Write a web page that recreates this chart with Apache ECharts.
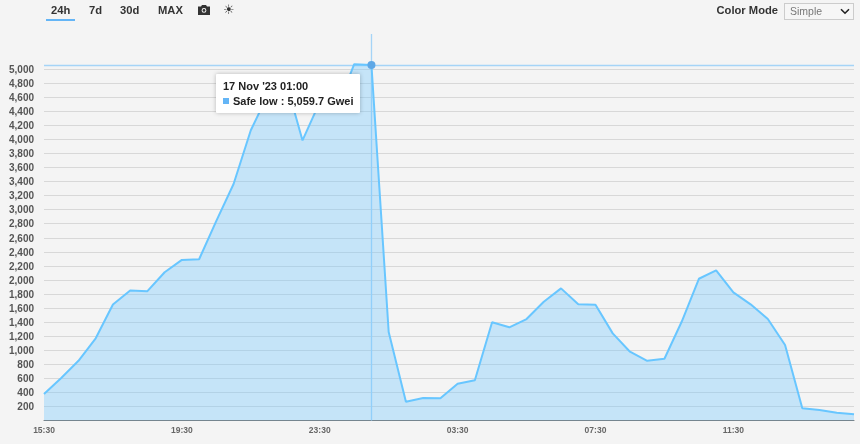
<!DOCTYPE html>
<html><head><meta charset="utf-8">
<script src="https://cdn.jsdelivr.net/npm/echarts@6/dist/echarts.min.js"></script>
<style>
html,body{margin:0;padding:0;background:#f4f4f4;font-family:"Liberation Sans",Arial,sans-serif;overflow:hidden}
#chart{position:absolute;left:0;top:0;width:860px;height:444px}
.t{position:absolute;top:3px;font-weight:bold;font-size:11.2px;line-height:14px;color:#333}
#u{position:absolute;left:46px;top:19px;width:29px;height:2px;background:#64b5f6}
#sel{position:absolute;left:784px;top:3px;width:70px;height:17px;font:10.5px/15px "Liberation Sans",Arial,sans-serif;color:#777;background:#f6f6f6;border:1px solid #ccc;padding-left:5px;box-sizing:border-box}
</style></head><body>
<div id="chart"></div>
<div class="t" style="left:51px">24h</div><div id="u"></div>
<div class="t" style="left:89px">7d</div>
<div class="t" style="left:120px">30d</div>
<div class="t" style="left:158px">MAX</div>
<svg style="position:absolute;left:198px;top:4px" width="12" height="12" viewBox="0 0 12 12"><path fill="#333" d="M0 2.5h3L4 1h4l1 1.5h3V11H0zM6 4a2.4 2.4 0 100 4.8A2.4 2.4 0 006 4z"/><circle cx="6" cy="6.4" r="1.4" fill="#333"/></svg>
<div class="t" style="left:223px;top:3px;font-family:'DejaVu Sans';font-weight:normal;font-size:13px">☀</div>
<div class="t" style="left:716.5px">Color Mode</div>
<div id="sel">Simple<svg style="position:absolute;left:55px;top:4px" width="10" height="7" viewBox="0 0 10 7"><path d="M1 1.2l4 4 4-4" fill="none" stroke="#222" stroke-width="1.6"/></svg></div>
<script>
const times = ["15:30","16:00","16:30","17:00","17:30","18:00","18:30","19:00","19:30","20:00","20:30","21:00","21:30","22:00","22:30","23:00","23:30","00:00","00:30","01:00","01:30","02:00","02:30","03:00","03:30","04:00","04:30","05:00","05:30","06:00","06:30","07:00","07:30","08:00","08:30","09:00","09:30","10:00","10:30","11:00","11:30","12:00","12:30","13:00","13:30","14:00","14:30","15:00"];
const safeLow = [377,605,850,1170,1650,1850,1840,2110,2285,2295,2840,3365,4130,4640,4860,3985,4530,4450,5070,5059.7,1260,267,320,316,524,572,1397,1326,1444,1690,1880,1653,1647,1240,979,850,879,1405,2017,2136,1823,1653,1444,1074,174,149,111,88];
const yTicks = [200,400,600,800,1000,1200,1400,1600,1800,2000,2200,2400,2600,2800,3000,3200,3400,3600,3800,4000,4200,4400,4600,4800,5000];
const peakIndex = 19;
const tipDate = "17 Nov '23 01:00";
const seriesName = "Safe low";

const chart = echarts.init(document.getElementById('chart'));
chart.setOption({
  animation:false,
  backgroundColor:'#f4f4f4',
  grid:{left:44,right:6,top:34,bottom:23.5},
  tooltip:{
    trigger:'axis',
    position:[216,74],
    backgroundColor:'#fff',borderWidth:0,borderRadius:1,
    padding:[5,7,4,7],
    extraCssText:'box-shadow:0 0 4px rgba(0,0,0,.25);',
    transitionDuration:0,
    axisPointer:{type:'line',z:1,lineStyle:{color:'#a5d4f7',width:1.3,type:'solid'}},
    formatter:ps=>`<div style="font:bold 11px/15px 'Liberation Sans';color:#222;white-space:nowrap">${tipDate}<br><span style="display:inline-block;width:6px;height:6px;background:#64b5f6;margin:0 4px 1px 0"></span>${seriesName} : ${ps[0].value.toLocaleString('en-US',{minimumFractionDigits:1})} Gwei</div>`
  },
  xAxis:{
    type:'category',data:times,boundaryGap:false,
    axisLine:{lineStyle:{color:'#777',width:1}},
    axisTick:{show:false},
    splitLine:{show:false},
    axisLabel:{interval:7,color:'#666',fontWeight:'bold',fontSize:8.5,fontFamily:'Liberation Sans',margin:6}
  },
  yAxis:{
    type:'value',min:0,max:5500,
    axisLine:{show:false},
    axisTick:{show:false,customValues:yTicks},
    splitLine:{show:true,lineStyle:{color:'#d8d8d8',width:1}},
    axisLabel:{customValues:yTicks,color:'#555',fontWeight:'bold',fontSize:10,fontFamily:'Liberation Sans',margin:10,verticalAlign:'top',lineHeight:2,
      formatter:v=>v.toLocaleString('en-US')},
    axisPointer:{show:true,status:'show',value:safeLow[peakIndex],type:'line',z:1,lineStyle:{color:'#a5d4f7',width:1.4,type:'solid'},label:{show:false}}
  },
  series:[{
    name:seriesName,type:'line',data:safeLow,
    showSymbol:false,symbol:'circle',symbolSize:8,smooth:false,
    lineStyle:{color:'#5fb4fa',width:2},
    itemStyle:{color:'#5fa8e6'},
    areaStyle:{color:'rgba(100,181,246,0.5)'},
    emphasis:{scale:false,itemStyle:{color:'#5fa8e6'},lineStyle:{width:2}}
  }]
});
chart.dispatchAction({type:'showTip',seriesIndex:0,dataIndex:peakIndex});
</script></body></html>
